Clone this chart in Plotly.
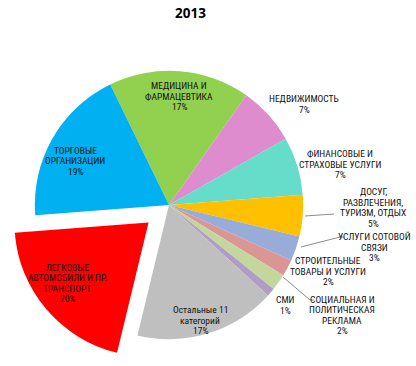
import plotly.graph_objects as go

categories = [
    "МЕДИЦИНА И<br>ФАРМАЦЕВТИКА",
    "НЕДВИЖИМОСТЬ",
    "ФИНАНСОВЫЕ И<br>СТРАХОВЫЕ УСЛУГИ",
    "ДОСУГ,<br>РАЗВЛЕЧЕНИЯ,<br>ТУРИЗМ, ОТДЫХ",
    "УСЛУГИ СОТОВОЙ<br>СВЯЗИ",
    "СТРОИТЕЛЬНЫЕ<br>ТОВАРЫ И УСЛУГИ",
    "СОЦИАЛЬНАЯ И<br>ПОЛИТИЧЕСКАЯ<br>РЕКЛАМА",
    "СМИ",
    "Остальные 11<br>категорий",
    "ЛЕГКОВЫЕ<br>АВТОМОБИЛИ И ПР.<br>ТРАНСПОРТ",
    "ТОРГОВЫЕ<br>ОРГАНИЗАЦИИ",
]
shares = [17, 7, 7, 5, 3, 2, 2, 1, 17, 20, 19]
colors = ["#92D050", "#DF8CCF", "#66DDCB", "#FFC000", "#97ACD8", "#D99694",
          "#C3D69B", "#AE9DC6", "#BFBFBF", "#FF0000", "#00B0F0"]
pulls = [0, 0, 0, 0, 0, 0, 0, 0, 0, 0.2, 0]

W, H = 416, 366
# label centre positions in pixels (layout only)
label_px = [(179, 96), (304, 104), (340, 164), (373, 207.5), (374, 247), (328, 271),
            (342, 315), (285, 305), (200, 320), (67, 283), (75, 161)]
LINE_H = 10.5

FONT = "Liberation Sans Narrow, Roboto Condensed, Roboto, sans-serif"

fig = go.Figure(go.Pie(
    labels=[c.replace("<br>", " ") for c in categories],
    values=shares,
    sort=False,
    direction="clockwise",
    rotation=-26,
    pull=pulls,
    marker=dict(colors=colors, line=dict(width=0)),
    textinfo="none",
    domain=dict(x=[8 / W, 330 / W], y=[0, 1 - 44 / H]),
    hoverinfo="label+percent",
    showlegend=False,
))

annotations = []
for (px, py), cat, v in zip(label_px, categories, shares):
    lines = cat.split("<br>") + [f"{v}%"]
    n = len(lines)
    for i, line in enumerate(lines):
        ly = py + (i - (n - 1) / 2) * LINE_H
        annotations.append(dict(
            x=px / W, y=1 - ly / H, xref="paper", yref="paper",
            text=line, showarrow=False, align="center",
            xanchor="center", yanchor="middle",
            font=dict(family=FONT, size=9.5, color="#111111"),
        ))
annotations.append(dict(
    x=190 / W, y=1 - 13 / H, xref="paper", yref="paper", text="<b>2013</b>",
    showarrow=False, xanchor="center", yanchor="middle",
    font=dict(family="Open Sans", size=13.5, color="#000000"),
))

leaders = [
    [(305, 216), (334, 214)],
    [(301, 247), (340, 237), (344, 237)],
    [(283, 277), (310, 300), (314, 300)],
]
shapes = []
for pts in leaders:
    path = "M " + " L ".join(f"{x / W} {1 - y / H}" for x, y in pts)
    shapes.append(dict(type="path", xref="paper", yref="paper", path=path,
                       line=dict(color="#8c8c8c", width=1)))

fig.update_layout(
    width=W, height=H,
    margin=dict(l=0, r=0, t=0, b=0),
    paper_bgcolor="white",
    plot_bgcolor="white",
    annotations=annotations,
    shapes=shapes,
)

fig.write_html(
    "out.html",
    config={"displayModeBar": False},
    post_script="document.body.style.margin='0';document.body.style.overflow='hidden';",
)
